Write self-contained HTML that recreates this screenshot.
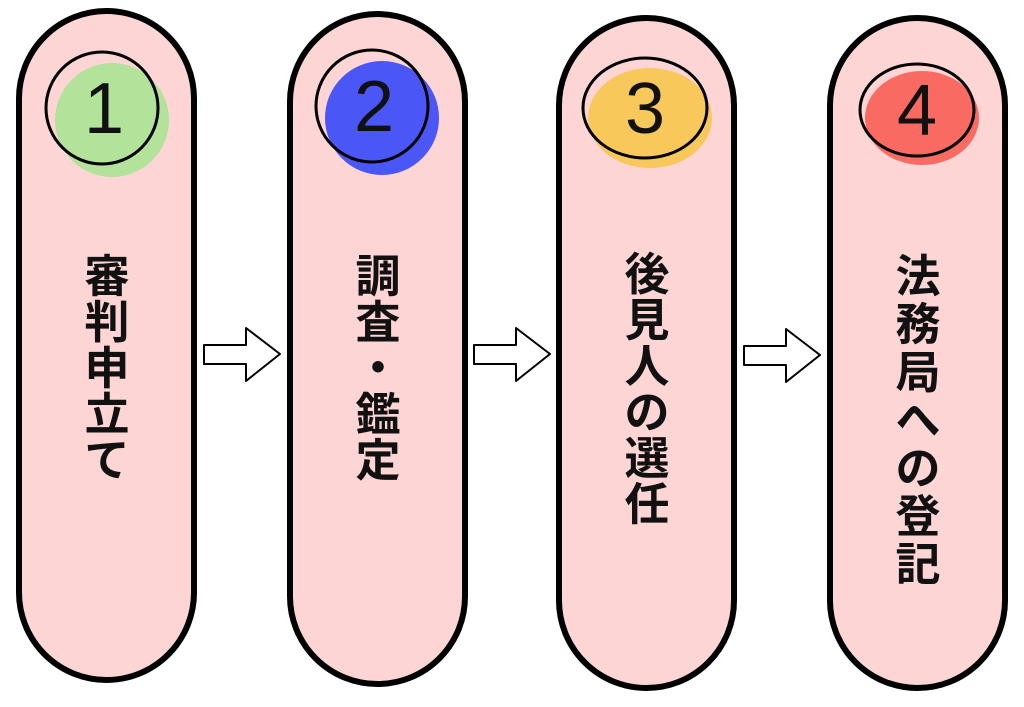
<!DOCTYPE html>
<html><head><meta charset="utf-8"><style>
html,body{margin:0;padding:0;background:#fff;}
svg{display:block}
.t{font-family:"Liberation Sans","Noto Sans CJK JP",sans-serif;font-weight:bold;font-size:45px;fill:#111;text-anchor:middle}
.n{font-family:"Liberation Sans",sans-serif;font-size:72px;fill:#111;text-anchor:middle}
</style></head><body>
<svg width="1024" height="707" viewBox="0 0 1024 707">
<g stroke="#000" stroke-width="6" fill="#fdd5d5">
<rect x="19" y="11" width="175" height="669" rx="87.5"/>
<rect x="290" y="14" width="175" height="670" rx="87.5"/>
<rect x="559" y="18" width="175" height="670" rx="87.5"/>
<rect x="830" y="18" width="175" height="670" rx="87.5"/>
</g>
<circle cx="112" cy="120" r="57" fill="#b3e29a"/>
<circle cx="382" cy="118" r="57" fill="#4a56f5"/>
<ellipse cx="650" cy="118" rx="62" ry="50" fill="#f8c85a"/>
<ellipse cx="922" cy="118" rx="57" ry="47" fill="#f96a62"/>
<g fill="none" stroke="#000" stroke-width="3">
<circle cx="102" cy="108" r="56"/>
<circle cx="372" cy="106" r="56"/>
<ellipse cx="645" cy="108" rx="62" ry="50"/>
<ellipse cx="917" cy="110" rx="57" ry="46"/>
</g>
<text class="n" x="104" y="133">1</text>
<text class="n" x="374" y="131">2</text>
<text class="n" x="645" y="133">3</text>
<text class="n" x="917" y="135">4</text>
<g stroke="#000" stroke-width="2" fill="#fff" stroke-linejoin="round">
<path d="M204,345 L246,345 L246,328 L280,354 L246,381 L246,364 L204,364 Z"/>
<path d="M474,345 L516,345 L516,328 L550,354 L516,381 L516,364 L474,364 Z"/>
<path d="M744,346 L786,346 L786,329 L820,355 L786,382 L786,365 L744,365 Z"/>
</g>
<g class="t">
<text x="107" y="292">審</text><text x="107" y="338">判</text><text x="107" y="384">申</text><text x="107" y="430">立</text><text x="107" y="476">て</text>
<text x="378" y="292">調</text><text x="378" y="338">査</text><text x="378" y="384">・</text><text x="378" y="430">鑑</text><text x="378" y="476">定</text>
<text x="647" y="290">後</text><text x="647" y="336">見</text><text x="647" y="382">人</text><text x="647" y="428">の</text><text x="647" y="474">選</text><text x="647" y="520">任</text>
<text x="918" y="292">法</text><text x="918" y="340">務</text><text x="918" y="388">局</text><text x="918" y="436">へ</text><text x="918" y="484">の</text><text x="918" y="532">登</text><text x="918" y="580">記</text>
</g>
</svg>
</body></html>
